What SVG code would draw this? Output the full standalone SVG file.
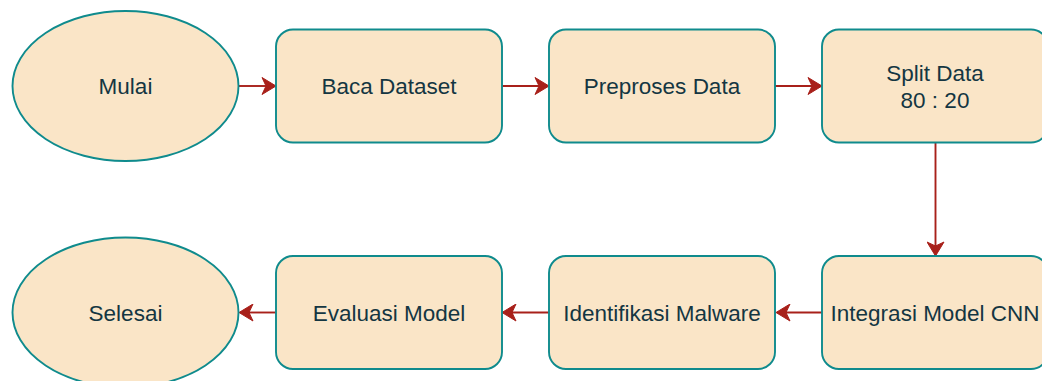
<svg xmlns="http://www.w3.org/2000/svg" width="1042" height="381" viewBox="0 0 1042 381">
<style>
.node{fill:#FAE5C7;stroke:#0F8B8D;stroke-width:1.9}
.lbl{font-family:"Liberation Sans",Arial,Helvetica,sans-serif;font-size:22.5px;fill:#143642;text-anchor:middle}
.edge{stroke:#A8201A;stroke-width:1.9;fill:none;marker-end:url(#arr)}
</style>
<defs>
<marker id="arr" markerUnits="userSpaceOnUse" markerWidth="16" markerHeight="18" viewBox="0 0 16 18" refX="5" refY="9" orient="auto">
<path d="M1,0.5 L15,9 L1,17.5 L5,9 Z" fill="#A8201A" stroke="#A8201A" stroke-width="1"/>
</marker>
</defs>
<rect width="1042" height="381" fill="#ffffff"/>
<g id="connectors">
<line class="edge" x1="239" y1="86" x2="266" y2="86"/>
<line class="edge" x1="502" y1="86" x2="539" y2="86"/>
<line class="edge" x1="775" y1="86" x2="812" y2="86"/>
<line class="edge" x1="935.5" y1="143" x2="935.5" y2="246"/>
<line class="edge" x1="822" y1="312.5" x2="786" y2="312.5"/>
<line class="edge" x1="549" y1="312.5" x2="512" y2="312.5"/>
<line class="edge" x1="276" y1="312.5" x2="249" y2="312.5"/>
</g>
<g id="mulai">
<ellipse class="node" cx="125.5" cy="86" rx="113" ry="75"/>
<text class="lbl" x="125.5" y="94.2">Mulai</text>
</g>
<g id="baca-dataset">
<rect class="node" x="276" y="29.5" width="226" height="113" rx="17" ry="17"/>
<text class="lbl" x="389" y="94.2">Baca Dataset</text>
</g>
<g id="preproses-data">
<rect class="node" x="549" y="29.5" width="226" height="113" rx="17" ry="17"/>
<text class="lbl" x="662" y="94.2">Preproses Data</text>
</g>
<g id="split-data">
<rect class="node" x="822" y="29.5" width="226" height="113" rx="17" ry="17"/>
<text class="lbl" x="935" y="81">Split Data</text>
<text class="lbl" x="935" y="107.5">80 : 20</text>
</g>
<g id="integrasi-model-cnn">
<rect class="node" x="822" y="256" width="226" height="113" rx="17" ry="17"/>
<text class="lbl" x="935" y="320.7">Integrasi Model CNN</text>
</g>
<g id="identifikasi-malware">
<rect class="node" x="549" y="256" width="226" height="113" rx="17" ry="17"/>
<text class="lbl" x="662" y="320.7">Identifikasi Malware</text>
</g>
<g id="evaluasi-model">
<rect class="node" x="276" y="256" width="226" height="113" rx="17" ry="17"/>
<text class="lbl" x="389" y="320.7">Evaluasi Model</text>
</g>
<g id="selesai">
<ellipse class="node" cx="125.5" cy="312.5" rx="113" ry="75"/>
<text class="lbl" x="125.5" y="320.7">Selesai</text>
</g>
</svg>
